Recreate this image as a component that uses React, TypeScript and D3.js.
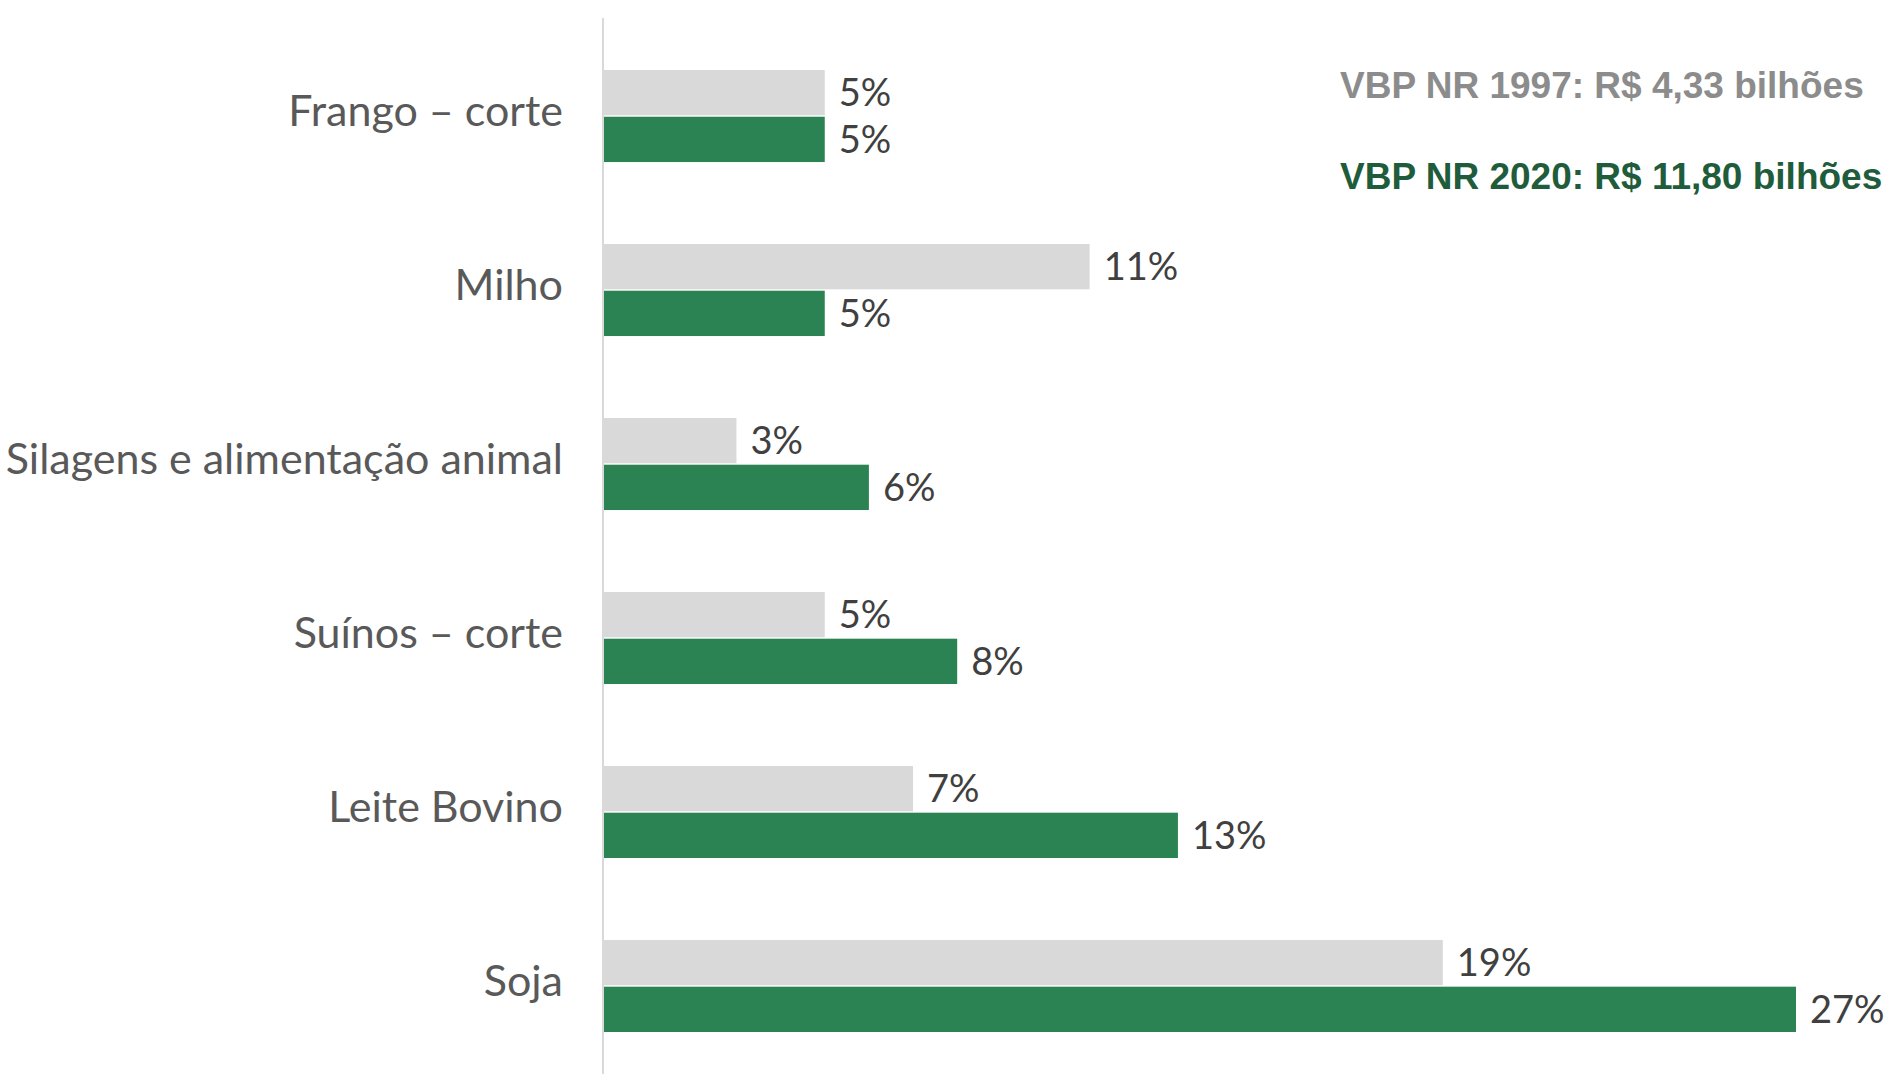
import { useEffect, useRef } from "react";
import * as d3 from "d3";

const categories = [
  "Frango – corte",
  "Milho",
  "Silagens e alimentação animal",
  "Suínos – corte",
  "Leite Bovino",
  "Soja",
];
const series = ["1997", "2020"];
const values1997 = [5, 11, 3, 5, 7, 19];
const values2020 = [5, 5, 6, 8, 13, 27];
const titles = ["VBP NR 1997: R$ 4,33 bilhões", "VBP NR 2020: R$ 11,80 bilhões"];

const colors: Record<string, string> = { "1997": "#d9d9d9", "2020": "#2b8253" };
const titleColors = ["#8c8c8c", "#1f5c3b"];

export default function App() {
  const svgRef = useRef<SVGSVGElement>(null);

  useEffect(() => {
    document.body.style.margin = "0";
    if (!svgRef.current) return;
    const svg = d3.select(svgRef.current);
    svg.selectAll("*").remove();

    const width = 1902;
    const height = 1081;
    svg.attr("width", width).attr("height", height);

    const x = d3.scaleLinear().domain([0, 27]).range([604, 1796]);
    const y = d3.scaleBand().domain(categories).range([70, 1032]).paddingInner(0.471);
    const ySub = d3.scaleBand().domain(series).range([0, y.bandwidth()]).paddingInner(0.03);

    const rows = categories.map((c, i) => ({ cat: c, v: { "1997": values1997[i], "2020": values2020[i] } as Record<string, number> }));

    // axis line
    svg.append("line")
      .attr("x1", x(0) - 1).attr("x2", x(0) - 1)
      .attr("y1", 18).attr("y2", 1074)
      .attr("stroke", "#d9d9d9").attr("stroke-width", 2);

    // category labels
    svg.selectAll(".cat")
      .data(rows)
      .enter().append("text")
      .attr("class", "cat")
      .attr("x", 563)
      .attr("y", d => y(d.cat)! + y.bandwidth() / 2 + 10)
      .attr("text-anchor", "end")
      .attr("font-family", "Lato, 'Noto Sans', sans-serif")
      .attr("font-size", "43px")
      .attr("fill", "#595959")
      .text(d => d.cat);

    const g = svg.selectAll(".grp")
      .data(rows)
      .enter().append("g")
      .attr("transform", d => `translate(0,${y(d.cat)})`);

    series.forEach(s => {
      g.append("rect")
        .attr("x", x(0))
        .attr("y", ySub(s)!)
        .attr("width", d => x(d.v[s]) - x(0))
        .attr("height", ySub.bandwidth())
        .attr("fill", colors[s]);

      g.append("text")
        .attr("x", d => x(d.v[s]) + 14)
        .attr("y", ySub(s)! + ySub.bandwidth() / 2)
        .attr("dy", "0.35em")
        .attr("font-family", "Lato, 'Noto Sans', sans-serif")
        .attr("font-size", "38px")
        .attr("fill", "#404040")
        .text(d => `${d.v[s]}%`);
    });

    // titles
    svg.selectAll(".title")
      .data(titles)
      .enter().append("text")
      .attr("class", "title")
      .attr("x", 1340)
      .attr("y", (d, i) => 98 + i * 91)
      .attr("font-family", "'Liberation Sans', Arial, sans-serif")
      .attr("font-weight", "bold")
      .attr("font-size", "37px")
      .attr("fill", (d, i) => titleColors[i])
      .text(d => d);
  }, []);

  return <svg ref={svgRef} style={{ display: "block", background: "#fff" }}></svg>;
}
